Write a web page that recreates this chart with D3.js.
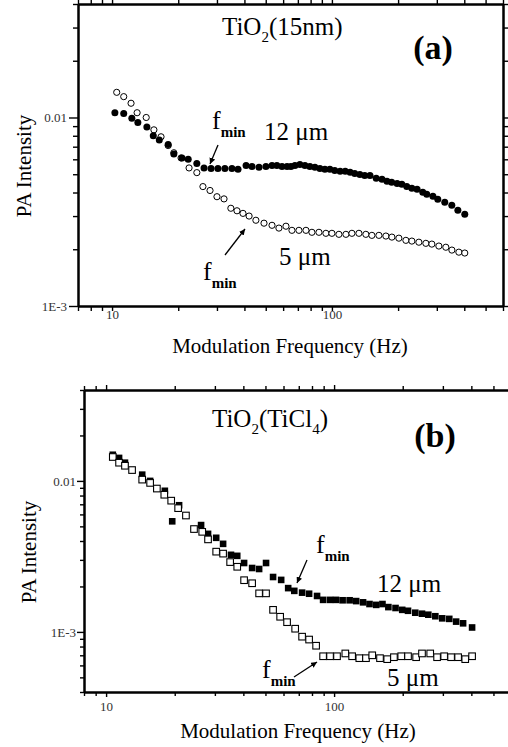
<!DOCTYPE html>
<html>
<head>
<meta charset="utf-8">
<script src="https://cdn.jsdelivr.net/npm/d3@7/dist/d3.min.js"></script>
<style>
  body { margin: 0; background: #fff; }
  svg { display: block; }
  text { font-family: "Liberation Serif", "Times New Roman", serif; }
</style>
</head>
<body>
<div id="chart"></div>
<script>
// (a) TiO2(15nm): filled circles = 12 um, open circles = 5 um
var a12Freq = [10.3, 11.3, 12.3, 13.1, 14.4, 15.4, 16.4, 18.0, 19.1, 20.8, 22.2, 24.3, 26.2, 28.2, 30.3, 32.6, 35.1, 37.4, 40.7, 43.3, 46.6, 50.1,
  53.4, 56.2, 59.3, 62.5, 65.1, 67.9, 71.5, 75.4, 79.4, 83.7, 88.2, 92.9, 97.9, 103, 109, 115, 121, 127, 134, 141, 149, 159, 169, 178, 187, 198,
  208, 219, 231, 244, 259, 270, 288, 303, 326, 351, 374, 402];
var a12Int = [0.0106, 0.0105, 0.0099, 0.0094, 0.0089, 0.0080, 0.0076, 0.0072, 0.0064, 0.0061, 0.0060, 0.0057, 0.0054, 0.00537, 0.00537, 0.00537,
  0.00537, 0.00531, 0.00557, 0.0055, 0.00544, 0.0055, 0.00557, 0.00557, 0.0055, 0.0055, 0.0055, 0.00557, 0.00564, 0.00557, 0.0055, 0.00544,
  0.00537, 0.00531, 0.00531, 0.00524, 0.00518, 0.00518, 0.00512, 0.00505, 0.00499, 0.00493, 0.00493, 0.00476, 0.0047, 0.00459, 0.00453,
  0.00447, 0.00442, 0.00431, 0.00421, 0.00416, 0.00401, 0.00391, 0.00382, 0.00368, 0.00355, 0.00342, 0.00322, 0.00307];
var a5Freq = [10.5, 11.3, 12.2, 13.0, 14.3, 15.5, 16.7, 18.0, 19.1, 20.6, 22.4, 24.3, 25.9, 27.9, 30.0, 32.3, 34.7, 37.0, 39.4, 42.0, 45.1, 49.1,
  53.4, 57.4, 61.8, 65.8, 70.8, 76.2, 81.1, 87.3, 93.9, 100, 107.6, 115.8, 123.3, 132.7, 142.7, 152, 163.6, 176, 187.4, 201.6, 217, 231,
  248.6, 267.5, 284.8, 306.5, 329.7, 351.3, 377.9, 402];
var a5Int = [0.0136, 0.0129, 0.0119, 0.0106, 0.0100, 0.0086, 0.0079, 0.0071, 0.0065, 0.0061, 0.0054, 0.0051, 0.0043, 0.0041, 0.0038, 0.0037,
  0.0033, 0.0032, 0.0031, 0.0030, 0.00285, 0.00275, 0.00268, 0.00259, 0.00265, 0.00252, 0.00252, 0.00252, 0.00246, 0.00246, 0.00243, 0.00243,
  0.0024, 0.0024, 0.00243, 0.00243, 0.0024, 0.00237, 0.00237, 0.00235, 0.00232, 0.00229, 0.00223, 0.00221, 0.00218, 0.00215, 0.00213,
  0.00208, 0.00205, 0.00198, 0.00193, 0.00191];

// (b) TiO2(TiCl4): filled squares = 12 um, open squares = 5 um
var b12Freq = [10.7, 11.4, 12.1, 14.4, 15.6, 18.1, 19.5, 20.9, 26.1, 28.0, 30.4, 32.6, 35.3, 37.6, 40.3, 43.7, 46.9, 50.3, 54.0, 58.6, 62.9,
  66.9, 72.4, 77.7, 84.2, 89.5, 96.0, 102, 109, 117, 125, 134, 143, 153, 163, 173, 186, 199, 211, 227, 243, 259, 278, 298, 320, 343, 368, 403];
var b12Int = [0.0149, 0.0142, 0.0132, 0.0110, 0.0100, 0.0086, 0.0054, 0.0069, 0.0051, 0.00446, 0.0042, 0.00383, 0.00324, 0.00319, 0.00286,
  0.00265, 0.00261, 0.00286, 0.00231, 0.00221, 0.00195, 0.00187, 0.00182, 0.00179, 0.00173, 0.00163, 0.00163, 0.00163, 0.00162, 0.00162,
  0.0016, 0.00157, 0.00153, 0.00151, 0.00153, 0.00146, 0.00144, 0.0014, 0.00138, 0.00134, 0.00132, 0.0013, 0.00127, 0.00123, 0.00122,
  0.00117, 0.00114, 0.00107];
var b5Freq = [10.7, 11.4, 12.1, 13.0, 14.4, 15.6, 16.7, 18.0, 19.3, 20.7, 22.4, 24.3, 26.4, 28.0, 30.4, 32.6, 35.0, 37.6, 40.3, 43.7, 46.9,
  50.3, 54.0, 58.0, 62.2, 67.5, 72.4, 77.7, 83.4, 89.5, 96.0, 103, 112, 120, 129, 138, 147, 159, 171, 183, 197, 211, 229, 243, 264, 283, 304,
  326, 350, 376, 403];
var b5Int = [0.0144, 0.0132, 0.0126, 0.0118, 0.0102, 0.0097, 0.0089, 0.0081, 0.0074, 0.0066, 0.0059, 0.0048, 0.0046, 0.0041, 0.0034, 0.0033,
  0.0029, 0.0027, 0.0022, 0.0021, 0.0018, 0.0018, 0.0014, 0.00126, 0.00116, 0.00105, 0.00093, 0.00089, 0.00081, 0.00069, 0.00069, 0.00069,
  0.00072, 0.00069, 0.00067, 0.00067, 0.0007, 0.00067, 0.00066, 0.00068, 0.00069, 0.00069, 0.00068, 0.00072, 0.00072, 0.00068, 0.00069,
  0.00068, 0.00068, 0.00066, 0.00069];

// tick labels
var xTickVals = [10, 100],
  xTickLabels = ["10", "100"],
  yTickVals = [0.001, 0.01],
  yTickLabels = ["1E-3", "0.01"];

var zip = (fs, vs) => fs.map((f, i) => ({ f: f, v: vs[i] }));

var svg = d3
  .select("#chart")
  .append("svg")
  .attr("width", 508)
  .attr("height", 747);

svg
  .append("defs")
  .append("marker")
  .attr("id", "arr")
  .attr("viewBox", "0 0 10 10")
  .attr("refX", 10)
  .attr("refY", 5)
  .attr("markerWidth", 6)
  .attr("markerHeight", 6)
  .attr("markerUnits", "userSpaceOnUse")
  .attr("orient", "auto")
  .append("path")
  .attr("d", "M0,0 L10,5 L0,10 z")
  .attr("fill", "#000");

// minor ticks 2..9 per decade inside a domain
let minors = (dom) => {
  var out = [];
  for (var e = -5; e <= 4; e++) {
    for (var m = 2; m <= 9; m++) {
      var v = m * Math.pow(10, e);
      if (v >= dom[0] * 0.999 && v <= dom[1] * 1.001) out.push(+v.toPrecision(3));
    }
  }
  return out;
};

let styleAxis = (sel) => {
  sel.select(".domain").attr("stroke", "#000").attr("stroke-width", 2);
  sel.selectAll(".tick line").attr("stroke", "#000").attr("stroke-width", 1.4);
  sel.selectAll(".tick text").attr("fill", "#333").attr("font-size", 13);
};

let subText = (x, y, parts, size, anchor) => {
  var t = svg
    .append("text")
    .attr("x", x)
    .attr("y", y)
    .attr("font-size", size)
    .attr("text-anchor", anchor || "start")
    .attr("fill", "#000");
  var shift = 0;
  parts.forEach((p) => {
    var s = t.append("tspan").text(p[0]);
    if (p[1]) {
      s.attr("font-size", size * 0.6).attr("dy", 7 - shift);
      shift = 7;
    } else if (shift) {
      s.attr("dy", -shift);
      shift = 0;
    }
  });
  return t;
};

let fmin = (x, y) => {
  var t = svg.append("text").attr("x", x).attr("y", y).attr("font-size", 26).attr("fill", "#000");
  t.append("tspan").text("f");
  t.append("tspan").text("min").attr("font-size", 15).attr("font-weight", "bold").attr("dy", 8);
};

let arrow = (x1, y1, x2, y2) => {
  svg
    .append("line")
    .attr("x1", x1)
    .attr("y1", y1)
    .attr("x2", x2)
    .attr("y2", y2)
    .attr("stroke", "#000")
    .attr("stroke-width", 1.3)
    .attr("marker-end", "url(#arr)");
};

let drawPanel = (p) => {
  var X = d3.scaleLog().domain(p.xDom).range([p.left, p.right]),
    Y = d3.scaleLog().domain(p.yDom).range([p.bottom, p.top]),
    g = svg.append("g");

  // minor ticks, all four sides
  [
    [d3.axisBottom(X).tickValues(minors(p.xDom)).tickSize(p.minor), `translate(0,${p.bottom})`],
    [d3.axisTop(X).tickValues(minors(p.xDom)).tickSize(p.minor), `translate(0,${p.top})`],
    [d3.axisLeft(Y).tickValues(minors(p.yDom)).tickSize(p.minor), `translate(${p.left},0)`],
    [d3.axisRight(Y).tickValues(minors(p.yDom)).tickSize(p.minor), `translate(${p.right},0)`],
  ].forEach((a) => {
    g.append("g").attr("transform", a[1]).call(a[0].tickFormat("").tickSizeOuter(0)).call(styleAxis);
  });

  // major ticks with labels
  g.append("g")
    .attr("transform", `translate(0,${p.bottom})`)
    .call(d3.axisBottom(X).tickValues(xTickVals).tickSize(p.major).tickSizeOuter(0).tickPadding(p.xPad)
      .tickFormat((d, i) => xTickLabels[i]))
    .call(styleAxis);
  g.append("g")
    .attr("transform", `translate(0,${p.top})`)
    .call(d3.axisTop(X).tickValues(xTickVals).tickSize(p.major).tickSizeOuter(0).tickFormat(""))
    .call(styleAxis);
  g.append("g")
    .attr("transform", `translate(${p.left},0)`)
    .call(d3.axisLeft(Y).tickValues(yTickVals).tickSize(p.majorY).tickSizeOuter(0).tickPadding(p.yPad)
      .tickFormat((d, i) => yTickLabels[i]))
    .call(styleAxis);
  g.append("g")
    .attr("transform", `translate(${p.right},0)`)
    .call(d3.axisRight(Y).tickValues(yTickVals).tickSize(p.majorY).tickSizeOuter(0).tickFormat(""))
    .call(styleAxis);

  // axis titles
  svg
    .append("text")
    .attr("x", p.xTitle[0])
    .attr("y", p.xTitle[1])
    .attr("text-anchor", "middle")
    .attr("font-size", 21)
    .text("Modulation Frequency (Hz)");
  svg
    .append("text")
    .attr("transform", `translate(${p.yTitle[0]},${p.yTitle[1]}) rotate(-90)`)
    .attr("text-anchor", "middle")
    .attr("font-size", 21)
    .text("PA Intensity");

  // series
  var sz = 6.6;
  p.series.forEach((s) => {
    var data = zip(s.f, s.v);
    if (s.shape === "circle") {
      g.selectAll()
        .data(data)
        .enter()
        .append("circle")
        .attr("cx", (d) => X(d.f))
        .attr("cy", (d) => Y(d.v))
        .attr("r", s.open ? 3.1 : 3.5)
        .attr("fill", s.open ? "#fff" : "#000")
        .attr("stroke", "#000")
        .attr("stroke-width", s.open ? 1 : 0);
    } else {
      g.selectAll()
        .data(data)
        .enter()
        .append("rect")
        .attr("x", (d) => X(d.f) - sz / 2)
        .attr("y", (d) => Y(d.v) - sz / 2)
        .attr("width", sz)
        .attr("height", sz)
        .attr("fill", s.open ? "#fff" : "#000")
        .attr("stroke", "#000")
        .attr("stroke-width", s.open ? 1.1 : 0);
    }
  });
};

drawPanel({
  left: 78, right: 503, top: 4, bottom: 306,
  xDom: [7, 600], yDom: [0.001, 0.04],
  minor: 5, major: 5, majorY: 9, xPad: -1, yPad: 2,
  xTitle: [290, 353], yTitle: [31, 166],
  series: [
    { f: a5Freq, v: a5Int, shape: "circle", open: true },
    { f: a12Freq, v: a12Int, shape: "circle", open: false },
  ],
});

drawPanel({
  left: 84, right: 511.5, top: 390, bottom: 692,
  xDom: [8, 600], yDom: [0.0004, 0.04],
  minor: 4, major: 5, majorY: 7, xPad: 5, yPad: 1,
  xTitle: [298, 738], yTitle: [36, 552],
  series: [
    { f: b12Freq, v: b12Int, shape: "square", open: false },
    { f: b5Freq, v: b5Int, shape: "square", open: true },
  ],
});

// panel (a) annotations
subText(222, 35, [["TiO"], ["2", 1], ["(15nm)"]], 25);
svg.append("text").attr("x", 433).attr("y", 59).attr("text-anchor", "middle")
  .attr("font-size", 34).attr("font-weight", "bold").text("(a)");
fmin(212, 129);
arrow(218, 145, 210, 164);
svg.append("text").attr("x", 264).attr("y", 140).attr("font-size", 25).text("12 \u03bcm");
fmin(203, 280);
arrow(225, 255, 245, 229);
svg.append("text").attr("x", 279).attr("y", 265).attr("font-size", 25).text("5 \u03bcm");

// panel (b) annotations
subText(212, 427, [["TiO"], ["2", 1], ["(TiCl"], ["4", 1], [")"]], 25);
svg.append("text").attr("x", 435).attr("y", 447).attr("text-anchor", "middle")
  .attr("font-size", 34).attr("font-weight", "bold").text("(b)");
fmin(316, 553);
arrow(307, 560, 297, 583);
svg.append("text").attr("x", 377).attr("y", 592).attr("font-size", 25).text("12 \u03bcm");
fmin(262, 678);
arrow(294, 677, 317, 662);
svg.append("text").attr("x", 387).attr("y", 686).attr("font-size", 25).text("5 \u03bcm");
</script>
</body>
</html>
